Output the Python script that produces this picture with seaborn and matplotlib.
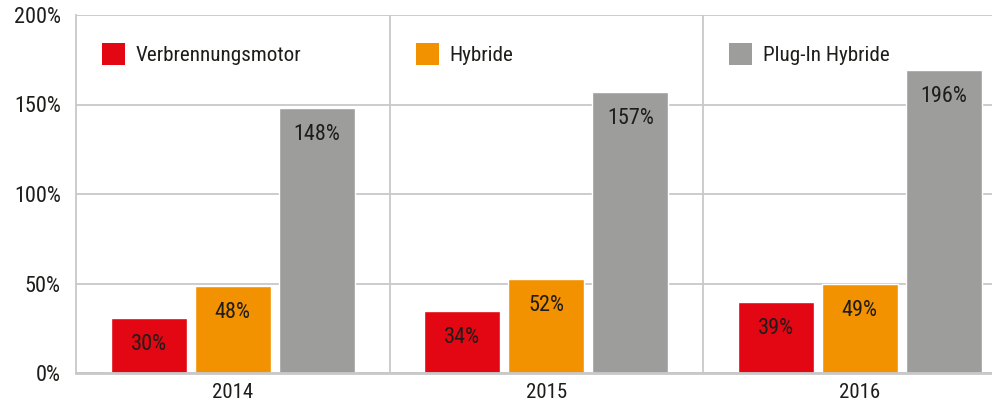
import matplotlib
matplotlib.use('Agg')
import matplotlib.pyplot as plt
import matplotlib.transforms as mtransforms
from matplotlib.patches import Patch
from matplotlib.legend import Legend
import seaborn as sns
import pandas as pd

# ---- data ----
years = ['2014', '2015', '2016']
series = ['Verbrennungsmotor', 'Hybride', 'Plug-In Hybride']
# bar heights as drawn in the picture (the 2016 plug-in bar is drawn capped)
verbrenner_heights = [30.6, 34.6, 39.7]
hybrid_heights = [48.6, 52.5, 49.7]
plugin_heights = [148.2, 157.2, 169.3]
# value labels printed on the bars
verbrenner_labels = ['30%', '34%', '39%']
hybrid_labels = ['48%', '52%', '49%']
plugin_labels = ['148%', '157%', '196%']
y_ticks = [0, 50, 100, 150, 200]
y_ticklabels = ['0%', '50%', '100%', '150%', '200%']
colors = ['#E30613', '#F39200', '#9D9D9C']

heights = [verbrenner_heights, hybrid_heights, plugin_heights]
labels = [verbrenner_labels, hybrid_labels, plugin_labels]

df = pd.DataFrame({
    'year': [y for s in series for y in years],
    'type': [s for s in series for _ in years],
    'value': [v for h in heights for v in h],
})

sns.set_style('white')
FONT = ['Roboto Condensed', 'Barlow Semi Condensed', 'DejaVu Sans']
plt.rcParams['font.family'] = FONT
plt.rcParams['font.weight'] = 'normal'
TXT = '#1d1d1b'
GRID = '#c8c8c8'

fig = plt.figure(figsize=(9.92, 4.01), dpi=100)
ax = fig.add_axes([76 / 992, 28 / 401, 916 / 992, 358 / 401])

sns.barplot(data=df, x='year', y='value', hue='type', order=years,
            hue_order=series, palette=colors, width=0.804, gap=0.095,
            saturation=1, legend=False, ax=ax, zorder=3)

# value labels
for cont, labs in zip(ax.containers, labels):
    for rect, lab in zip(cont, labs):
        ax.annotate(lab, (rect.get_x() + rect.get_width() / 2, rect.get_height()),
                    xytext=(0, -19), textcoords='offset points',
                    ha='center', va='center', fontsize=16, color=TXT)

ax.set_ylim(0, 200)
ax.set_xlim(-0.5, -0.5 + 916 / 313.5)
ax.set_yticks(y_ticks)
ax.set_yticklabels(y_ticklabels)
ax.set_xlabel('')
ax.set_ylabel('')
ax.tick_params(axis='y', length=0, pad=11, labelsize=16, labelcolor=TXT)
ax.tick_params(axis='x', length=0, pad=7, labelsize=15, labelcolor=TXT)

ax.set_axisbelow(True)
ax.yaxis.grid(True, color=GRID, linewidth=1.3)
ax.xaxis.grid(False)
for i in range(1, len(years)):
    ax.axvline(i - 0.5, color=GRID, linewidth=1.3, zorder=1)

for s in ['top', 'right']:
    ax.spines[s].set_visible(False)
ax.spines['left'].set_color(GRID)
ax.spines['left'].set_linewidth(1.3)
ax.spines['bottom'].set_color(GRID)
ax.spines['bottom'].set_linewidth(2)
ax.spines['bottom'].set_zorder(4)

# legend entries, one per group column
trans = mtransforms.blended_transform_factory(ax.transData, ax.transAxes)
fs = 15.2
for i, (s, c) in enumerate(zip(series, colors)):
    leg = Legend(ax, [Patch(facecolor=c, edgecolor='none')], [s],
                 loc='center left', bbox_to_anchor=(i - 0.5 + 0.083, 0.891),
                 bbox_transform=trans, frameon=False, borderpad=0,
                 borderaxespad=0, handlelength=1.09, handleheight=1.22,
                 handletextpad=0.5, fontsize=fs, labelcolor=TXT)
    ax.add_artist(leg)

fig.savefig('out.png', dpi=100)
